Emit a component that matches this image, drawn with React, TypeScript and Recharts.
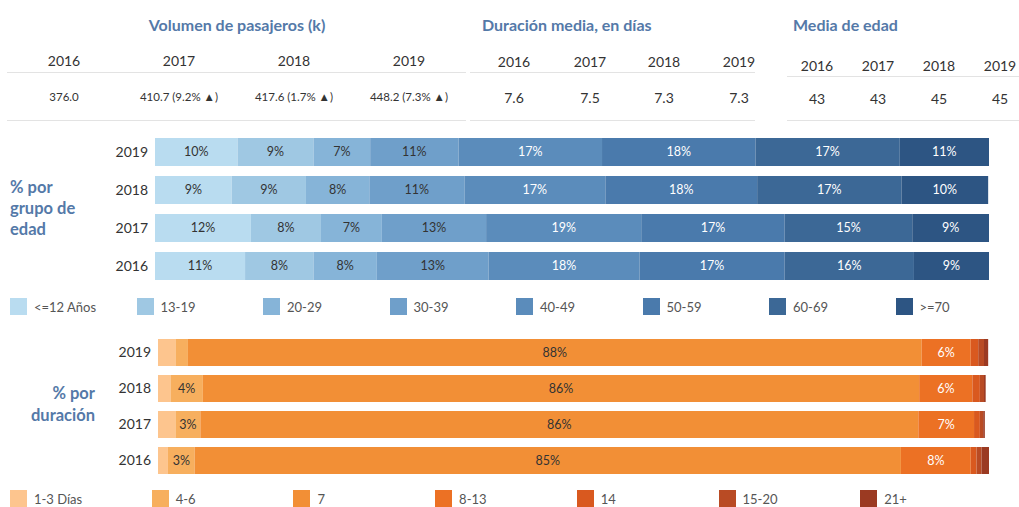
import { BarChart, Bar, XAxis, YAxis, LabelList } from 'recharts'

const years = ['2016', '2017', '2018', '2019']
const passengerVolume = [376.0, 410.7, 417.6, 448.2]
const volumeChange = [null, 9.2, 1.7, 7.3]
const avgDuration = [7.6, 7.5, 7.3, 7.3]
const avgAge = [43, 43, 45, 45]

// filas de arriba a abajo
const rowYears = ['2019', '2018', '2017', '2016']

const ageGroups = ['<=12 Años', '13-19', '20-29', '30-39', '40-49', '50-59', '60-69', '>=70']
const ageColors = ['#b9dcf0', '#9fc8e3', '#86b4d8', '#6f9fca', '#5b8cbb', '#4a7aac', '#3c6896', '#2d5583']
const ageShare2019 = [9.9, 9.1, 6.8, 10.6, 17.2, 18.4, 17.3, 10.7]
const ageShare2018 = [9.2, 8.9, 7.6, 11.4, 16.9, 18.2, 17.3, 10.4]
const ageShare2017 = [11.5, 8.4, 7.3, 12.5, 18.6, 17.2, 15.3, 9.2]
const ageShare2016 = [10.8, 8.2, 7.6, 13.4, 18.1, 17.4, 15.5, 9.1]

const durationGroups = ['1-3 Días', '4-6', '7', '8-13', '14', '15-20', '21+']
const durationColors = ['#fdc58e', '#f7af5e', '#f28f36', '#ec7124', '#d9591f', '#b94b24', '#9b3a22']
const durShare2019 = [2.1, 1.5, 88.3, 5.9, 0.9, 0.7, 0.5]
const durShare2018 = [1.5, 3.9, 86.2, 6.4, 0.9, 0.5, 0.2]
const durShare2017 = [2.1, 3.0, 86.4, 6.7, 0.7, 0.4, 0.2]
const durShare2016 = [1.2, 3.2, 85.0, 8.4, 0.7, 0.6, 0.9]

const FONT = 'Lato, "Open Sans", sans-serif'
const TITLE_BLUE = '#5479a8'

const toRows = (shares: number[][]) =>
  rowYears.map((year, i) => {
    const row: any = { year }
    shares[i].forEach((v, k) => (row['g' + k] = v))
    return row
  })

const ageData = toRows([ageShare2019, ageShare2018, ageShare2017, ageShare2016])
const durData = toRows([durShare2019, durShare2018, durShare2017, durShare2016])

const segLabel = (fill: string) => (props: any) => {
  const { x, y, width, height, value } = props
  if (width < 20) return null
  return (
    <text
      x={x + width / 2}
      y={y + height / 2 + 1}
      textAnchor="middle"
      dominantBaseline="middle"
      fill={fill}
      fontSize={12.5}
      fontFamily={FONT}
    >
      {Math.round(value)}%
    </text>
  )
}

function Abs({ x, y, align = 'center', style, children }: any) {
  const tx = align === 'center' ? '-50%' : align === 'right' ? '-100%' : '0'
  return (
    <div
      style={{
        position: 'absolute',
        left: x,
        top: y,
        transform: `translate(${tx}, -50%)`,
        whiteSpace: 'nowrap',
        fontFamily: FONT,
        ...style,
      }}
    >
      {children}
    </div>
  )
}

const hLine = (x1: number, x2: number, y: number) => (
  <div style={{ position: 'absolute', left: x1, top: y, width: x2 - x1, height: 1, background: '#e3e3e3' }} />
)

function Legend({ labels, colors, x0, step, y }: any) {
  return (
    <>
      {labels.map((l: string, i: number) => (
        <div key={l} style={{ position: 'absolute', left: x0 + i * step, top: y, display: 'flex', alignItems: 'center' }}>
          <div style={{ width: 17, height: 17, background: colors[i] }} />
          <span style={{ marginLeft: 7, fontFamily: FONT, fontSize: 13, color: '#555' }}>{l}</span>
        </div>
      ))}
    </>
  )
}

export default function App() {
  const volX = [64, 179, 294, 409]
  const durX = [514, 590, 664, 739]
  const ageX = [817, 878, 939, 1000]
  const headTitle = { fontSize: 16, fontWeight: 700, color: TITLE_BLUE }
  const yearStyle = { fontSize: 14, color: '#333' }

  return (
    <div style={{ position: 'absolute', left: 0, top: 0, width: 1019, height: 507, background: '#fff', overflow: 'hidden' }}>
      {/* cabecera */}
      <Abs x={237} y={24} style={headTitle}>Volumen de pasajeros (k)</Abs>
      <Abs x={482} y={24} align="left" style={headTitle}>Duración media, en días</Abs>
      <Abs x={793} y={24} align="left" style={headTitle}>Media de edad</Abs>

      {years.map((yr, i) => (
        <Abs key={'v' + yr} x={volX[i]} y={60} style={yearStyle}>{yr}</Abs>
      ))}
      {years.map((yr, i) => (
        <Abs key={'d' + yr} x={durX[i]} y={61} style={yearStyle}>{yr}</Abs>
      ))}
      {years.map((yr, i) => (
        <Abs key={'a' + yr} x={ageX[i]} y={65} style={yearStyle}>{yr}</Abs>
      ))}
      {hLine(7, 466, 72)}
      {hLine(470, 755, 72)}
      {hLine(787, 1019, 76)}

      {passengerVolume.map((v, i) => (
        <Abs key={'pv' + i} x={volX[i]} y={96} style={{ fontSize: 11.5, color: '#333' }}>
          {v.toFixed(1)}
          {volumeChange[i] != null && ` (${volumeChange[i]!.toFixed(1)}% \u25B2)`}
        </Abs>
      ))}
      {avgDuration.map((v, i) => (
        <Abs key={'ad' + i} x={durX[i]} y={97} style={{ fontSize: 14, color: '#333' }}>{v.toFixed(1)}</Abs>
      ))}
      {avgAge.map((v, i) => (
        <Abs key={'aa' + i} x={ageX[i]} y={98} style={{ fontSize: 14, color: '#333' }}>{v}</Abs>
      ))}
      {hLine(7, 466, 120)}
      {hLine(470, 755, 120)}
      {hLine(787, 1019, 120)}

      {/* grupo de edad */}
      <div style={{ position: 'absolute', left: 10, top: 177, fontFamily: FONT, fontSize: 16.5, fontWeight: 700, color: TITLE_BLUE, lineHeight: '21px' }}>
        % por
        <br />
        grupo de
        <br />
        edad
      </div>
      <div style={{ position: 'absolute', left: 0, top: 132.5 }}>
        <BarChart width={1019} height={152} data={ageData} layout="vertical" margin={{ top: 0, right: 30, bottom: 0, left: 0 }} barSize={28}>
          <XAxis type="number" domain={[0, 100]} hide allowDataOverflow />
          <YAxis
            type="category"
            dataKey="year"
            width={155}
            axisLine={false}
            tickLine={false}
            tickSize={0}
            tickMargin={7}
            tick={{ fill: '#333', fontSize: 14, fontFamily: FONT }}
          />
          {ageGroups.map((g, k) => (
            <Bar key={g} dataKey={'g' + k} stackId="a" fill={ageColors[k]} isAnimationActive={false}>
              <LabelList dataKey={'g' + k} content={segLabel(k < 4 ? '#333' : '#fff')} />
            </Bar>
          ))}
        </BarChart>
      </div>
      <Legend labels={ageGroups} colors={ageColors} x0={10} step={126.5} y={298} />

      {/* duración */}
      <div style={{ position: 'absolute', left: 95, top: 382, transform: 'translateX(-100%)', textAlign: 'right', fontFamily: FONT, fontSize: 16.5, fontWeight: 700, color: TITLE_BLUE, lineHeight: '22px' }}>
        % por
        <br />
        duración
      </div>
      <div style={{ position: 'absolute', left: 0, top: 333.5 }}>
        <BarChart width={1019} height={144} data={durData} layout="vertical" margin={{ top: 0, right: 30, bottom: 0, left: 0 }} barSize={27}>
          <XAxis type="number" domain={[0, 100]} hide allowDataOverflow />
          <YAxis
            type="category"
            dataKey="year"
            width={158}
            axisLine={false}
            tickLine={false}
            tickSize={0}
            tickMargin={7}
            tick={{ fill: '#333', fontSize: 14, fontFamily: FONT }}
          />
          {durationGroups.map((g, k) => (
            <Bar key={g} dataKey={'g' + k} stackId="d" fill={durationColors[k]} isAnimationActive={false}>
              <LabelList dataKey={'g' + k} content={segLabel(k < 3 ? '#333' : '#fff')} />
            </Bar>
          ))}
        </BarChart>
      </div>
      <Legend labels={durationGroups} colors={durationColors} x0={10} step={141.7} y={490} />
    </div>
  )
}
